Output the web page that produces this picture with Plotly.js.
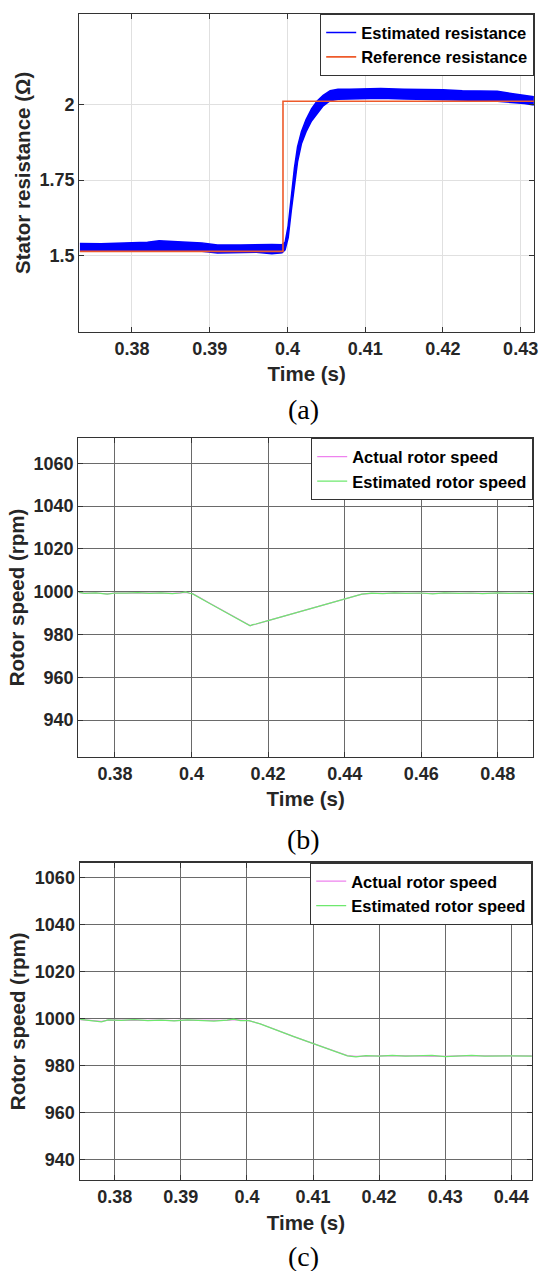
<!DOCTYPE html>
<html><head><meta charset="utf-8">
<script src="https://cdn.plot.ly/plotly-3.0.1.min.js"></script>
<style>html,body{margin:0;padding:0;background:#fff}#chart{width:542px;height:1271px}</style>
</head><body><div id="chart"></div>
<script>
// ---------- (a) Stator resistance ----------
const timeA = [0.3733, 0.376, 0.379, 0.382, 0.3835, 0.385, 0.3865, 0.389, 0.391, 0.394, 0.396, 0.398, 0.3993,
  0.3997, 0.4001, 0.4005, 0.4009, 0.4013, 0.4018, 0.4024, 0.4031, 0.4038, 0.4046, 0.4055, 0.4065,
  0.408, 0.41, 0.412, 0.415, 0.418, 0.42, 0.4225, 0.425, 0.427, 0.429, 0.4305, 0.4317];
const resEstUpper = [1.541, 1.540, 1.543, 1.545, 1.550, 1.547, 1.546, 1.543, 1.536, 1.536, 1.538, 1.538, 1.537,
  1.545, 1.600, 1.700, 1.790, 1.860, 1.910, 1.950, 1.985, 2.010, 2.030, 2.045, 2.050,
  2.050, 2.052, 2.052, 2.050, 2.050, 2.048, 2.045, 2.044, 2.043, 2.035, 2.030, 2.025];
const resEstLower = [1.515, 1.516, 1.517, 1.517, 1.520, 1.519, 1.518, 1.515, 1.510, 1.511, 1.512, 1.507, 1.510,
  1.520, 1.560, 1.650, 1.740, 1.810, 1.870, 1.910, 1.945, 1.970, 1.995, 2.012, 2.017,
  2.018, 2.020, 2.020, 2.018, 2.017, 2.016, 2.014, 2.013, 2.010, 2.006, 2.003, 1.998];
const timeRefA = [0.3733, 0.39943, 0.4317];
const resRef = [1.515, 2.01, 2.01];
const xTicksA = [0.38, 0.39, 0.4, 0.41, 0.42, 0.43];
const xTickTextA = ['0.38', '0.39', '0.4', '0.41', '0.42', '0.43'];
const yTicksA = [1.5, 1.75, 2];
const yTickTextA = ['1.5', '1.75', '2'];

// ---------- (b) Rotor speed ----------
const timeB = [0.3705, 0.372, 0.375, 0.378, 0.380, 0.383, 0.386, 0.389, 0.392, 0.395, 0.397, 0.3985, 0.3995, 0.4003,
  0.405, 0.41, 0.4145, 0.4153, 0.416, 0.4168, 0.42, 0.425, 0.43, 0.435, 0.44, 0.4445,
  0.447, 0.45, 0.453, 0.456, 0.46, 0.463, 0.466, 0.47, 0.473, 0.476, 0.48, 0.483, 0.486, 0.4892];
const speedEstB = [999.8, 999.2, 999.5, 998.9, 999.4, 999.3, 999.6, 999.2, 999.5, 999.1, 999.4, 999.9, 999.3, 999.0,
  994.3, 989.3, 984.7, 984.1, 984.6, 984.9, 986.5, 989.0, 991.6, 994.1, 996.7, 998.9,
  999.3, 999.1, 999.5, 999.2, 999.4, 999.0, 999.5, 999.2, 999.4, 999.1, 999.5, 999.2, 999.4, 999.1];
const speedActB = [999.6, 999.3, 999.4, 999.0, 999.3, 999.4, 999.5, 999.3, 999.4, 999.2, 999.3, 999.7, 999.3, 999.1,
  994.4, 989.4, 984.8, 984.2, 984.5, 984.8, 986.5, 989.1, 991.6, 994.1, 996.6, 998.9,
  999.2, 999.2, 999.4, 999.3, 999.3, 999.1, 999.4, 999.3, 999.3, 999.2, 999.4, 999.3, 999.3, 999.2];
const xTicksB = [0.38, 0.4, 0.42, 0.44, 0.46, 0.48];
const xTickTextB = ['0.38', '0.4', '0.42', '0.44', '0.46', '0.48'];

// ---------- (c) Rotor speed ----------
const timeC = [0.3748, 0.3765, 0.378, 0.379, 0.381, 0.383, 0.385, 0.387, 0.389, 0.391, 0.393, 0.395, 0.397, 0.398, 0.399, 0.4003,
  0.402, 0.404, 0.4055, 0.407, 0.409, 0.411, 0.413, 0.4145, 0.4152,
  0.4165, 0.418, 0.42, 0.422, 0.424, 0.426, 0.428, 0.43, 0.432, 0.434, 0.436, 0.438, 0.44, 0.4431];
const speedEstC = [999.5, 999.0, 998.5, 999.3, 999.1, 999.4, 999.0, 999.2, 998.9, 999.3, 999.1, 998.8, 999.2, 999.6, 999.0, 999.0,
  997.6, 995.4, 993.7, 992.3, 990.3, 988.2, 986.2, 984.6, 984.0,
  983.6, 984.1, 983.9, 984.2, 983.9, 984.1, 984.2, 983.7, 984.0, 984.2, 983.9, 984.1, 984.0, 983.9];
const speedActC = [999.4, 999.1, 998.7, 999.2, 999.1, 999.3, 999.1, 999.2, 999.0, 999.2, 999.1, 998.9, 999.1, 999.4, 999.1, 999.0,
  997.7, 995.5, 993.8, 992.3, 990.3, 988.3, 986.3, 984.7, 984.1,
  983.8, 984.0, 984.0, 984.1, 984.0, 984.0, 984.1, 983.8, 984.0, 984.1, 984.0, 984.0, 984.0, 984.0];
const xTicksC = [0.38, 0.39, 0.4, 0.41, 0.42, 0.43, 0.44];
const xTickTextC = ['0.38', '0.39', '0.4', '0.41', '0.42', '0.43', '0.44'];
const yTicksSpeed = [940, 960, 980, 1000, 1020, 1040, 1060];

// ---------- styling ----------
const W = 542, H = 1271;
const FONT = 'Liberation Sans, Arial, sans-serif';
const px = v => v / W, py = v => 1 - v / H;
const tickFont = {family: FONT, size: 18, color: '#262626', weight: 'bold'};
const titleFont = {family: FONT, size: 20.5, color: '#262626', weight: 'bold'};
const legFont = {family: FONT, size: 16.5, color: '#000', weight: 'bold'};

function xAxis(domain, range, tv, tt, anchor, grid) {
  return {domain, range, tickvals: tv, ticktext: tt, anchor, ticks: 'inside', ticklen: 5, tickcolor: '#333',
    showline: true, linecolor: '#333', linewidth: 1.3, mirror: 'ticks', showgrid: true, gridcolor: grid.c, gridwidth: grid.w,
    zeroline: false, tickfont: tickFont, automargin: false, fixedrange: true,
    title: {text: 'Time (s)', font: titleFont, standoff: 9}};
}
function yAxis(domain, range, tv, tt, anchor, grid, title) {
  return {domain, range, tickvals: tv, ticktext: tt, anchor, ticks: 'inside', ticklen: 5, tickcolor: '#333',
    showline: true, linecolor: '#333', linewidth: 1.3, mirror: 'ticks', showgrid: true, gridcolor: grid.c, gridwidth: grid.w,
    zeroline: false, tickfont: tickFont, automargin: false, fixedrange: true,
    title: {text: title, font: titleFont, standoff: 3}};
}
const lightGrid = {c: '#e0e0e0', w: 1};
const darkGrid = {c: '#6a6a6a', w: 1};

const traces = [
  {x: timeA, y: resEstUpper, name: 'Estimated resistance', mode: 'lines', line: {color: '#0000ff', width: 1.5},
   xaxis: 'x', yaxis: 'y', legend: 'legend'},
  {x: timeA, y: resEstLower, name: 'Estimated resistance', mode: 'lines', line: {color: '#0000ff', width: 1.5},
   fill: 'tonexty', fillcolor: '#0000ff', showlegend: false, xaxis: 'x', yaxis: 'y'},
  {x: timeRefA, y: resRef, name: 'Reference resistance', mode: 'lines', line: {color: '#ee5a2a', width: 1.6, shape: 'hv'},
   xaxis: 'x', yaxis: 'y', legend: 'legend'},

  {x: timeB, y: speedActB, name: 'Actual rotor speed', mode: 'lines', line: {color: '#ee82ee', width: 1.2},
   xaxis: 'x2', yaxis: 'y2', legend: 'legend2'},
  {x: timeB, y: speedEstB, name: 'Estimated rotor speed', mode: 'lines', line: {color: '#6ee86e', width: 1.2},
   xaxis: 'x2', yaxis: 'y2', legend: 'legend2'},

  {x: timeC, y: speedActC, name: 'Actual rotor speed', mode: 'lines', line: {color: '#ee82ee', width: 1.2},
   xaxis: 'x3', yaxis: 'y3', legend: 'legend3'},
  {x: timeC, y: speedEstC, name: 'Estimated rotor speed', mode: 'lines', line: {color: '#6ee86e', width: 1.2},
   xaxis: 'x3', yaxis: 'y3', legend: 'legend3'}
];

function legend(xr, yt) {
  return {x: px(xr), y: py(yt), xanchor: 'right', yanchor: 'top', bgcolor: '#fff', bordercolor: '#333', borderwidth: 1.2,
    font: legFont, tracegroupgap: 0, itemwidth: 30, traceorder: 'normal'};
}

const layout = {
  width: W, height: H, margin: {l: 0, r: 0, t: 0, b: 0}, paper_bgcolor: '#fff', plot_bgcolor: '#fff',
  font: {family: FONT}, showlegend: true,
  xaxis: xAxis([px(79.4), px(534)], [0.37324, 0.43172], xTicksA, xTickTextA, 'y', lightGrid),
  yaxis: yAxis([py(331.7), py(14)], [1.25, 2.298], yTicksA, yTickTextA, 'x', lightGrid, 'Stator resistance (Ω)'),
  xaxis2: xAxis([px(78.4), px(533)], [0.37045, 0.4892], xTicksB, xTickTextB, 'y2', darkGrid),
  yaxis2: yAxis([py(756.7), py(438.3)], [922.9, 1071.7], yTicksSpeed, yTicksSpeed.map(String), 'x2', darkGrid, 'Rotor speed (rpm)'),
  xaxis3: xAxis([px(79.8), px(532)], [0.37472, 0.44313], xTicksC, xTickTextC, 'y3', darkGrid),
  yaxis3: yAxis([py(1180), py(862.7)], [931.2, 1066.2], yTicksSpeed, yTicksSpeed.map(String), 'x3', darkGrid, 'Rotor speed (rpm)'),
  legend: legend(534, 14),
  legend2: legend(533, 438.3),
  legend3: legend(532, 862.7),
  annotations: [
    {text: '(a)', x: px(303), y: py(409), xref: 'paper', yref: 'paper', showarrow: false, xanchor: 'center', yanchor: 'middle',
     font: {family: 'Liberation Serif, Times New Roman, serif', size: 28, color: '#000'}},
    {text: '(b)', x: px(303), y: py(839), xref: 'paper', yref: 'paper', showarrow: false, xanchor: 'center', yanchor: 'middle',
     font: {family: 'Liberation Serif, Times New Roman, serif', size: 28, color: '#000'}},
    {text: '(c)', x: px(303), y: py(1256), xref: 'paper', yref: 'paper', showarrow: false, xanchor: 'center', yanchor: 'middle',
     font: {family: 'Liberation Serif, Times New Roman, serif', size: 28, color: '#000'}}
  ]
};

Plotly.newPlot('chart', traces, layout, {displayModeBar: false, staticPlot: true});
</script>
</body></html>
